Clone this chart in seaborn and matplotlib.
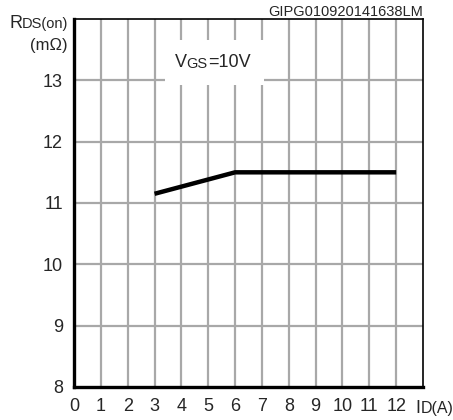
import matplotlib
matplotlib.use("Agg")
import matplotlib.pyplot as plt
import matplotlib.patches as mpatches
import seaborn as sns
import pandas as pd

# data
corrente_id = [3, 6, 12]
rds_on = [11.15, 11.5, 11.5]
ticks_x = list(range(0, 13))
ticks_y = [8, 9, 10, 11, 12, 13]

cinza_grade = "#a8a8a8"
preto = "#000000"

sns.set_style("white")
plt.rcParams['font.family'] = ['Liberation Sans', 'DejaVu Sans']

df = pd.DataFrame({'id': corrente_id, 'rds': rds_on})

fig = plt.figure(figsize=(4.53, 4.20), dpi=100)
ax = fig.add_axes([0.1634, 0.0786, 0.7704, 0.8762])

ax.set_xlim(0, 13)
ax.set_ylim(8, 14)

# grade manual (a do topo e a direita sao as bordas)
for xv in ticks_x[1:]:
    ax.axvline(xv, color=cinza_grade, lw=1.6, zorder=1)
for yv in ticks_y[1:]:
    ax.axhline(yv, color=cinza_grade, lw=1.6, zorder=1)

# caixa branca atras do texto VGS
ax.add_patch(mpatches.Rectangle((3.39, 12.93), 3.69, 0.73, facecolor='white',
                                edgecolor='none', zorder=2))

sns.lineplot(data=df, x='id', y='rds', color=preto, lw=3.2, ax=ax, zorder=4,
             solid_capstyle='butt')

ax.set_xticks(ticks_x)
ax.set_yticks(ticks_y)
ax.set_xticklabels([str(t) for t in ticks_x], fontsize=13)
ax.set_yticklabels([str(t) for t in ticks_y], fontsize=13)
ax.tick_params(axis='x', length=0, pad=8)
ax.tick_params(axis='y', length=0, pad=8)
ax.set_xlabel('')
ax.set_ylabel('')

for lado in ['left', 'bottom']:
    ax.spines[lado].set_linewidth(2.4)
    ax.spines[lado].set_color(preto)
for lado in ['top', 'right']:
    ax.spines[lado].set_linewidth(1.2)
    ax.spines[lado].set_color(preto)
for s in ax.spines.values():
    s.set_zorder(5)

# texto VGS=10V com subscrito menor
t1 = ax.text(3.75, 13.29, 'V', fontsize=13, va='center', ha='left', zorder=3)
t2 = ax.annotate('GS', xy=(1, 0), xycoords=t1, fontsize=10.5, va='bottom', zorder=3)
ax.annotate('=10V', xy=(1, 0), xycoords=t2, fontsize=13, va='bottom', zorder=3)

# rotulo do eixo y
fig.text(0.022, 0.933, 'R', fontsize=13, va='baseline', ha='left')
fig.text(0.049, 0.933, 'DS(on)', fontsize=10.5, va='baseline', ha='left')
fig.text(0.150, 0.880, '(m\u03a9)', fontsize=12, va='baseline', ha='right')

# rotulo do eixo x
fig.text(0.917, 0.016, 'I', fontsize=13, va='baseline', ha='left')
fig.text(0.929, 0.016, 'D(A)', fontsize=11.5, va='baseline', ha='left')

fig.text(0.934, 0.963, 'GIPG010920141638LM', fontsize=10.5, va='baseline', ha='right')

fig.savefig('out.png', dpi=100)
